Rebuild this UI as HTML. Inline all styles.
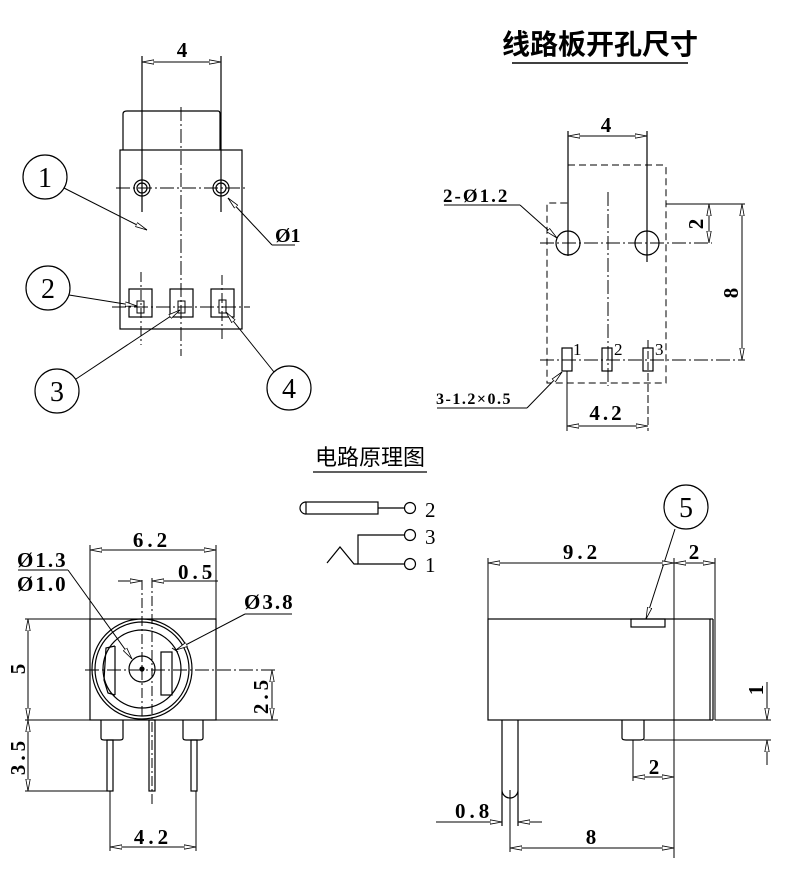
<!DOCTYPE html>
<html><head><meta charset="utf-8"><style>
html,body{margin:0;padding:0;background:#fff}
svg{display:block}
text{font-family:"Liberation Serif","Noto Serif CJK SC",serif;fill:#000}
.c{font-family:"Liberation Sans","Noto Sans CJK SC",sans-serif}
</style></head><body>
<svg width="800" height="892" viewBox="0 0 800 892" xmlns="http://www.w3.org/2000/svg">
<defs>
<marker id="a" viewBox="0 0 12 6" refX="12" refY="3" markerWidth="12" markerHeight="6" orient="auto-start-reverse" markerUnits="userSpaceOnUse">
<path d="M0,0.8 L12,3 L0,5.2 Z" fill="#fff" stroke="#000" stroke-width="0.8"/></marker>
</defs>
<g fill="none" stroke="#000" stroke-width="1.2">
<line x1="142" y1="56" x2="142" y2="212"/>
<line x1="221" y1="56" x2="221" y2="212"/>
<line x1="142" y1="62" x2="221" y2="62" marker-start="url(#a)" marker-end="url(#a)" stroke-width="1"/>
<path d="M123,150 L123,114 Q123,111 127,111 L218,111 Q220,111 220,114 L220,150"/>
<rect x="120" y="150" width="122" height="179"/>
<circle cx="142" cy="188" r="8"/><circle cx="142" cy="188" r="5"/>
<circle cx="221" cy="188" r="8"/><circle cx="221" cy="188" r="5"/>
<line x1="181" y1="107" x2="181" y2="356" stroke-dasharray="14,3,2,3" stroke-width="1"/>
<line x1="116" y1="188" x2="246" y2="188" stroke-dasharray="14,3,2,3" stroke-width="1"/>
<line x1="112" y1="307" x2="250" y2="307" stroke-dasharray="14,3,2,3" stroke-width="1"/>
<line x1="141" y1="272" x2="141" y2="345" stroke-dasharray="10,3,2,3" stroke-width="1"/>
<line x1="222" y1="275" x2="222" y2="340" stroke-dasharray="10,3,2,3" stroke-width="1"/>
<rect x="129" y="289" width="23" height="28"/>
<rect x="170" y="289" width="23" height="28"/>
<rect x="211" y="289" width="23" height="28"/>
<rect x="137" y="301" width="7" height="12" stroke-width="1"/>
<rect x="178" y="301" width="7" height="12" stroke-width="1"/>
<rect x="219" y="300" width="7" height="13" stroke-width="1"/>
<circle cx="45" cy="177" r="22"/>
<circle cx="48" cy="288" r="22"/>
<circle cx="57" cy="391" r="22"/>
<circle cx="289" cy="388" r="22"/>
<line x1="64" y1="188" x2="147" y2="230" marker-end="url(#a)" stroke-width="1"/>
<line x1="69" y1="295" x2="137" y2="306" marker-end="url(#a)" stroke-width="1"/>
<line x1="76" y1="379" x2="180" y2="310" marker-end="url(#a)" stroke-width="1"/>
<line x1="274" y1="372" x2="226" y2="312" marker-end="url(#a)" stroke-width="1"/>
<line x1="295" y1="245" x2="272" y2="245" stroke-width="1"/>
<line x1="272" y1="245" x2="228" y2="198" marker-end="url(#a)" stroke-width="1"/>

<line x1="512" y1="63" x2="688" y2="63" stroke-width="1.5"/>
<line x1="568" y1="131" x2="568" y2="256"/>
<line x1="647" y1="131" x2="647" y2="262"/>
<line x1="568" y1="136" x2="647" y2="136" marker-start="url(#a)" marker-end="url(#a)" stroke-width="1"/>
<path d="M568,165 L663,165 Q666,165 666,168 L666,383 L547,383 L547,203 L568,203" stroke-dasharray="7,4" stroke-width="1"/>
<line x1="666" y1="204" x2="745" y2="204" stroke-width="1"/>
<line x1="709" y1="204" x2="709" y2="243" marker-start="url(#a)" marker-end="url(#a)" stroke-width="1"/>
<line x1="742" y1="204" x2="742" y2="360" marker-start="url(#a)" marker-end="url(#a)" stroke-width="1"/>
<circle cx="568" cy="243" r="12"/>
<circle cx="647" cy="243" r="12"/>
<line x1="540" y1="243" x2="712" y2="243" stroke-dasharray="14,3,2,3" stroke-width="1"/>
<line x1="608" y1="192" x2="608" y2="386" stroke-dasharray="14,3,2,3" stroke-width="1"/>
<line x1="540" y1="360" x2="745" y2="360" stroke-dasharray="14,3,2,3" stroke-width="1"/>
<rect x="562" y="348" width="10" height="23"/>
<rect x="602" y="348" width="10" height="23"/>
<rect x="643" y="348" width="10" height="23"/>
<line x1="567" y1="371" x2="567" y2="431" stroke-width="1"/>
<line x1="648" y1="340" x2="648" y2="431" stroke-dasharray="8,3" stroke-width="1"/>
<line x1="567" y1="426" x2="648" y2="426" marker-start="url(#a)" marker-end="url(#a)" stroke-width="1"/>
<line x1="444" y1="205" x2="520" y2="205" stroke-width="1"/>
<line x1="520" y1="205" x2="557" y2="238" marker-end="url(#a)" stroke-width="1"/>
<line x1="437" y1="408" x2="527" y2="408" stroke-width="1"/>
<line x1="527" y1="408" x2="562" y2="372" marker-end="url(#a)" stroke-width="1"/>

<line x1="313" y1="472" x2="427" y2="472" stroke-width="1.3"/>
<rect x="306" y="502" width="72" height="12"/>
<path d="M306,502 A6,6 0 0 0 306,514"/>
<line x1="378" y1="508" x2="404" y2="508"/>
<circle cx="410" cy="508" r="5.5"/>
<circle cx="410" cy="535" r="5.5"/>
<circle cx="410" cy="564" r="5.5"/>
<polyline points="404,535 358,535 358,564 404,564"/>
<polyline points="327,563 340,547 354,564 358,564"/>

<rect x="90" y="619" width="126" height="101"/>
<line x1="90" y1="545" x2="90" y2="619" stroke-width="1"/>
<line x1="216" y1="545" x2="216" y2="619" stroke-width="1"/>
<line x1="90" y1="550" x2="216" y2="550" marker-start="url(#a)" marker-end="url(#a)" stroke-width="1"/>
<circle cx="142" cy="669" r="50"/>
<circle cx="142" cy="669" r="47"/>
<circle cx="142" cy="669" r="39"/>
<circle cx="142" cy="669" r="13"/>
<circle cx="142" cy="669" r="2" fill="#000"/>
<path d="M115,646 L106,648 L104,680 L108,693 L115,695"/>
<line x1="115" y1="646" x2="115" y2="695"/>
<rect x="161" y="652" width="11" height="43"/>
<line x1="172" y1="648" x2="178" y2="652" stroke-width="1"/>
<line x1="85" y1="670" x2="278" y2="670" stroke-dasharray="14,3,2,3" stroke-width="1"/>
<line x1="142" y1="580" x2="142" y2="720" stroke-dasharray="10,3,2,3" stroke-width="1"/>
<line x1="152" y1="578" x2="152" y2="805" stroke-dasharray="10,3,2,3" stroke-width="1"/>
<line x1="118" y1="581" x2="142" y2="581" marker-end="url(#a)" stroke-width="1"/>
<line x1="218" y1="581" x2="152" y2="581" marker-end="url(#a)" stroke-width="1"/>
<line x1="25" y1="619" x2="90" y2="619" stroke-width="1"/>
<line x1="25" y1="720" x2="90" y2="720" stroke-width="1"/>
<line x1="25" y1="791" x2="113" y2="791" stroke-width="1"/>
<line x1="28" y1="619" x2="28" y2="720" marker-start="url(#a)" marker-end="url(#a)" stroke-width="1"/>
<line x1="28" y1="720" x2="28" y2="791" marker-start="url(#a)" marker-end="url(#a)" stroke-width="1"/>
<line x1="216" y1="720" x2="278" y2="720" stroke-width="1"/>
<line x1="272" y1="670" x2="272" y2="720" marker-start="url(#a)" marker-end="url(#a)" stroke-width="1"/>
<path d="M101,720 L101,738 Q101,740 104,740 L120,740 Q123,740 123,738 L123,720"/>
<rect x="107" y="740" width="6" height="51"/>
<rect x="149" y="720" width="6" height="71"/>
<path d="M183,720 L183,738 Q183,740 186,740 L200,740 Q203,740 203,738 L203,720"/>
<rect x="191" y="740" width="6" height="51"/>
<line x1="110" y1="791" x2="110" y2="851" stroke-width="1"/>
<line x1="196" y1="791" x2="196" y2="851" stroke-width="1"/>
<line x1="110" y1="847" x2="196" y2="847" marker-start="url(#a)" marker-end="url(#a)" stroke-width="1"/>
<line x1="18" y1="570" x2="68" y2="570" stroke-width="1"/>
<line x1="68" y1="570" x2="132" y2="659" marker-end="url(#a)" stroke-width="1"/>
<line x1="292" y1="614" x2="245" y2="614" stroke-width="1"/>
<line x1="245" y1="614" x2="176" y2="650" marker-end="url(#a)" stroke-width="1"/>

<circle cx="686" cy="507" r="22"/>
<line x1="675" y1="529" x2="646" y2="619" marker-end="url(#a)" stroke-width="1"/>
<rect x="488" y="619" width="222" height="101"/>
<line x1="710" y1="619" x2="713" y2="619"/><line x1="713" y1="619" x2="713" y2="720"/><line x1="710" y1="720" x2="713" y2="720"/>
<rect x="631" y="619" width="34" height="8"/>
<line x1="488" y1="558" x2="488" y2="619" stroke-width="1"/>
<line x1="674" y1="558" x2="674" y2="858" stroke-width="1"/>
<line x1="715" y1="558" x2="715" y2="720" stroke-width="1"/>
<line x1="488" y1="563" x2="674" y2="563" marker-start="url(#a)" marker-end="url(#a)" stroke-width="1"/>
<line x1="674" y1="563" x2="715" y2="563" marker-start="url(#a)" marker-end="url(#a)" stroke-width="1"/>
<path d="M502,720 L502,826 M518,720 L518,826 M502,790 A8,8 0 0 0 518,790"/>
<line x1="510" y1="790" x2="510" y2="852" stroke-width="1"/>
<path d="M622,720 L622,738 Q622,740 626,740 L640,740 Q644,740 644,738 L644,720"/>
<line x1="715" y1="720" x2="771" y2="720" stroke-width="1"/>
<line x1="644" y1="740" x2="771" y2="740" stroke-width="1"/>
<line x1="767" y1="682" x2="767" y2="720" marker-end="url(#a)" stroke-width="1"/>
<line x1="767" y1="765" x2="767" y2="740" marker-end="url(#a)" stroke-width="1"/>
<line x1="633" y1="740" x2="633" y2="781" stroke-width="1"/>
<line x1="633" y1="777" x2="674" y2="777" marker-start="url(#a)" marker-end="url(#a)" stroke-width="1"/>
<line x1="436" y1="822" x2="502" y2="822" marker-end="url(#a)" stroke-width="1"/>
<line x1="542" y1="822" x2="518" y2="822" marker-end="url(#a)" stroke-width="1"/>
<line x1="510" y1="848" x2="674" y2="848" marker-start="url(#a)" marker-end="url(#a)" stroke-width="1"/>
</g>

<g font-size="21" font-weight="bold">
<text x="182" y="57" text-anchor="middle">4</text>
<text x="45" y="187" text-anchor="middle" font-size="28" font-weight="normal">1</text>
<text x="48" y="298" text-anchor="middle" font-size="28" font-weight="normal">2</text>
<text x="57" y="401" text-anchor="middle" font-size="28" font-weight="normal">3</text>
<text x="289" y="398" text-anchor="middle" font-size="28" font-weight="normal">4</text>
<text x="275" y="242" font-size="20">Ø1</text>

<text x="600" y="54" text-anchor="middle" class="c" font-size="28" font-weight="bold">线路板开孔尺寸</text>
<text x="606" y="132" text-anchor="middle">4</text>
<text x="443" y="202" font-size="19" letter-spacing="2">2-Ø1.2</text>
<text transform="translate(703,224) rotate(-90)" text-anchor="middle">2</text>
<text transform="translate(738,293) rotate(-90)" text-anchor="middle">8</text>
<text x="573" y="355" font-size="17" font-weight="normal">1</text>
<text x="614" y="355" font-size="17" font-weight="normal">2</text>
<text x="655" y="355" font-size="17" font-weight="normal">3</text>
<text x="436" y="404" font-size="16" letter-spacing="1.5">3-1.2×0.5</text>
<text x="607" y="420" text-anchor="middle" letter-spacing="3">4.2</text>

<text x="370" y="465" text-anchor="middle" class="c" font-size="22" font-weight="normal">电路原理图</text>
<text x="425" y="517" font-weight="normal">2</text>
<text x="425" y="544" font-weight="normal">3</text>
<text x="425" y="572" font-weight="normal">1</text>

<text x="152" y="547" text-anchor="middle" letter-spacing="4">6.2</text>
<text x="17" y="567" letter-spacing="2">Ø1.3</text>
<text x="17" y="591" letter-spacing="2">Ø1.0</text>
<text x="178" y="579" letter-spacing="4">0.5</text>
<text x="244" y="609" letter-spacing="2">Ø3.8</text>
<text transform="translate(25,669) rotate(-90)" text-anchor="middle">5</text>
<text transform="translate(25,756) rotate(-90)" text-anchor="middle" letter-spacing="4">3.5</text>
<text transform="translate(268,695) rotate(-90)" text-anchor="middle" letter-spacing="4">2.5</text>
<text x="153" y="844" text-anchor="middle" letter-spacing="4">4.2</text>

<text x="686" y="517" text-anchor="middle" font-size="28" font-weight="normal">5</text>
<text x="582" y="559" text-anchor="middle" letter-spacing="4">9.2</text>
<text x="694" y="559" text-anchor="middle">2</text>
<text transform="translate(763,690) rotate(-90)" text-anchor="middle">1</text>
<text x="654" y="774" text-anchor="middle">2</text>
<text x="455" y="818" letter-spacing="4">0.8</text>
<text x="591" y="844" text-anchor="middle">8</text>
</g>
</svg>
</body></html>
